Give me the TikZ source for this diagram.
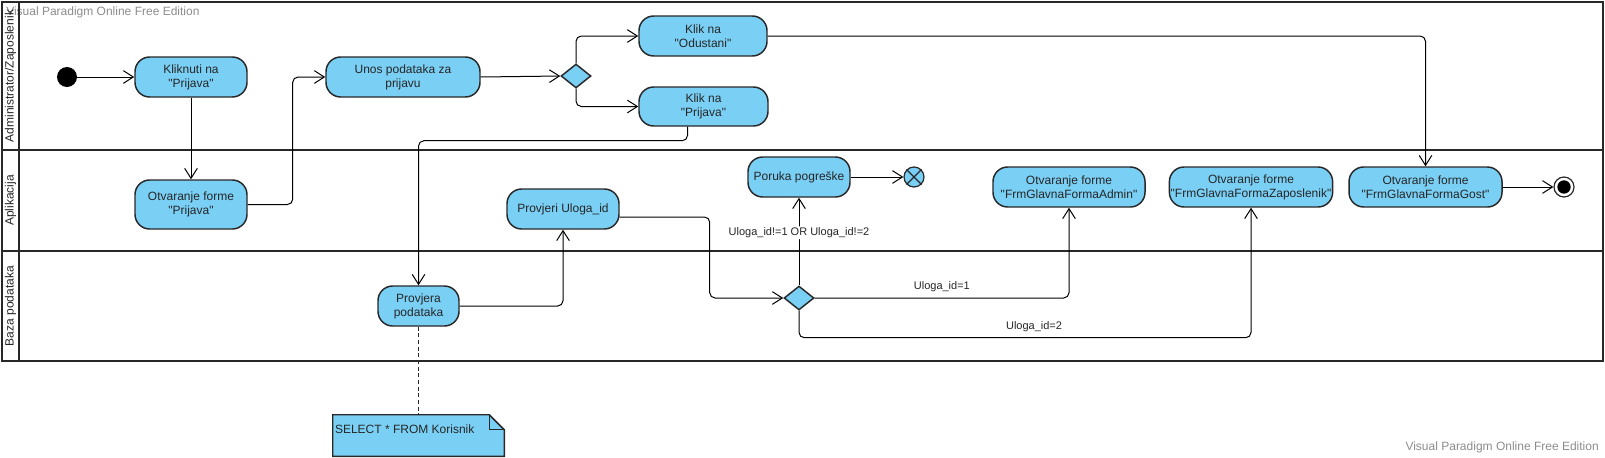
\documentclass[tikz,border=0pt]{standalone}
\usepackage{fontspec}
\setmainfont{Liberation Sans}[Ligatures=TeXOff]
\usepackage{xcolor}
\usetikzlibrary{arrows.meta,shapes.geometric,calc}

\definecolor{vpblue}{RGB}{122,207,245}
\definecolor{vpline}{RGB}{40,40,40}

\tikzset{
  akcija/.style={draw=vpline, line width=1.1pt, fill=vpblue, rounded corners=11pt,
    align=center, inner sep=1pt, minimum height=30pt, text=black!85,
    font=\fontsize{9}{10.5}\selectfont},
  odluka/.style={diamond, draw=vpline, line width=1.1pt, fill=vpblue, inner sep=0pt,
    minimum width=22.5pt, minimum height=18pt},
  tok/.style={-{Straight Barb[length=7.5pt,width=9.5pt]}, line width=0.75pt, rounded corners=4pt},
  uvjet/.style={font=\fontsize{8.25}{9}\selectfont, text=black!85},
  staza/.style={draw=vpline, line width=1.8pt},
  stazanaziv/.style={rotate=90, font=\fontsize{9}{10}\selectfont, text=black!85},
  vodeni/.style={font=\fontsize{9}{10}\selectfont, text=black!45, inner sep=0pt}
}

\begin{document}
\begin{tikzpicture}[x=0.75pt,y=-0.75pt]
  \useasboundingbox (0,0) rectangle (1605,457);

  % Watermark
  \node[vodeni, anchor=west] (vodenigore) at (6,12) {Visual Paradigm Online Free Edition};
  \node[vodeni, anchor=east] (vodenidolje) at (1599,447) {Visual Paradigm Online Free Edition};

  % Swimlanes
  \draw[staza] (2,2) rectangle (1603,361);
  \draw[staza] (19,2) -- (19,361);
  \draw[staza] (2,150) -- (1603,150);
  \draw[staza] (2,251) -- (1603,251);
  \node[stazanaziv] (stazakorisnik) at (10.5,76) {Administrator/Zaposlenik};
  \node[stazanaziv] (stazaaplikacija) at (10.5,200.5) {Aplikacija};
  \node[stazanaziv] (stazabaza) at (10.5,306) {Baza podataka};

  % Start and end
  \node[circle, fill=black, minimum size=15pt, inner sep=0pt] (pocetak) at (67,77) {};
  \node[circle, draw=vpline, fill=vpblue, line width=0.9pt, minimum size=15pt, inner sep=0pt] (prekid) at (914,177) {};
  \draw[line width=0.9pt, vpline] (prekid.45) -- (prekid.225) (prekid.135) -- (prekid.315);
  \node[circle, draw=vpline, fill=white, line width=0.9pt, minimum size=15pt, inner sep=0pt] (kraj) at (1564,187) {};
  \node[circle, fill=black, minimum size=10pt, inner sep=0pt] (krajtocka) at (kraj) {};

  % Actions
  \node[akcija, minimum width=84pt] (kliknuti) at (191,77) {Kliknuti na\\"Prijava"};
  \node[akcija, minimum width=84pt, minimum height=36.75pt] (otvprijava) at (191,204.5) {Otvaranje forme\\"Prijava"};
  \node[akcija, minimum width=115.5pt] (unos) at (403,77) {Unos podataka za\\prijavu};
  \node[odluka] (odluka1) at (576,76) {};
  \node[akcija, minimum width=96pt] (odustani) at (703,36) {Klik na\\"Odustani"};
  \node[akcija, minimum width=96.75pt, minimum height=29.25pt] (klikprijava) at (703.5,106.5) {Klik na\\"Prijava"};
  \node[akcija, minimum width=60.75pt] (provjera) at (418.5,306) {Provjera\\podataka};
  \node[akcija, minimum width=84pt] (provjeri) at (563,209) {Provjeri Uloga\_id};
  \node[odluka] (odluka2) at (799,298) {};
  \node[akcija, minimum width=76.5pt] (poruka) at (799,177) {Poruka pogreške};
  \node[akcija, minimum width=114pt] (admin) at (1069,187) {Otvaranje forme\\"FrmGlavnaFormaAdmin"};
  \node[akcija, minimum width=120pt] (zaposlenik) at (1251,187) {Otvaranje forme\\"FrmGlavnaFormaZaposlenik"};
  \node[akcija, minimum width=114.75pt] (gost) at (1425.5,187) {Otvaranje forme\\"FrmGlavnaFormaGost"};

  % Note
  \node[minimum width=128.25pt, minimum height=30.75pt, inner sep=0pt] (biljeska) at (418.5,435.5) {};
  \filldraw[fill=vpblue, draw=vpline, line width=1.1pt]
    (biljeska.north west) -- ($(biljeska.north east)+(-15,0)$) -- ($(biljeska.north east)+(0,15)$)
    -- (biljeska.south east) -- (biljeska.south west) -- cycle;
  \draw[vpline, line width=0.8pt] ($(biljeska.north east)+(-15,0)$) -- ($(biljeska.north east)+(-15,15)$) -- ($(biljeska.north east)+(0,15)$);
  \node[anchor=west, inner sep=0pt, font=\fontsize{9}{10}\selectfont, text=black!85] (upit) at ($(biljeska.north west)+(2,14)$) {SELECT * FROM Korisnik};
  \draw[line width=0.9pt, dash pattern=on 3pt off 2pt, vpline] (provjera.south) -- (biljeska.north);

  % Flow
  \draw[tok] (pocetak) -- (kliknuti);
  \draw[tok] (kliknuti) -- (otvprijava);
  \draw[tok] (otvprijava.east) -- ++(45,0) |- (unos.west);
  \draw[tok] (unos.east) -- (odluka1.west);
  \draw[tok] (odluka1.north) |- (odustani.west);
  \draw[tok] (odluka1.south) |- (klikprijava.west);
  \draw[tok] ($(klikprijava.south)+(-16,0)$) -- ++(0,14) -| (provjera.north);
  \draw[tok] (provjera.east) -| (provjeri.south);
  \draw[tok] ([yshift=-6pt]provjeri.east) -- ++(90,0) |- (odluka2.west);
  \draw[tok] (odluka2.north) -- node[uvjet, pos=0.6, fill=white, inner sep=1pt] {Uloga\_id!=1 OR Uloga\_id!=2} (poruka.south);
  \draw[tok] (poruka.east) -- (prekid);
  \draw[tok] (odluka2.east) -| node[uvjet, pos=0.25, above=1pt] {Uloga\_id=1} (admin.south);
  \draw[tok] (odluka2.south) -- ++(0,27) -| node[uvjet, pos=0.26, above=1pt] {Uloga\_id=2} (zaposlenik.south);
  \draw[tok] (odustani.east) -| (gost.north);
  \draw[tok] (gost.east) -- (kraj);
\end{tikzpicture}
\end{document}
